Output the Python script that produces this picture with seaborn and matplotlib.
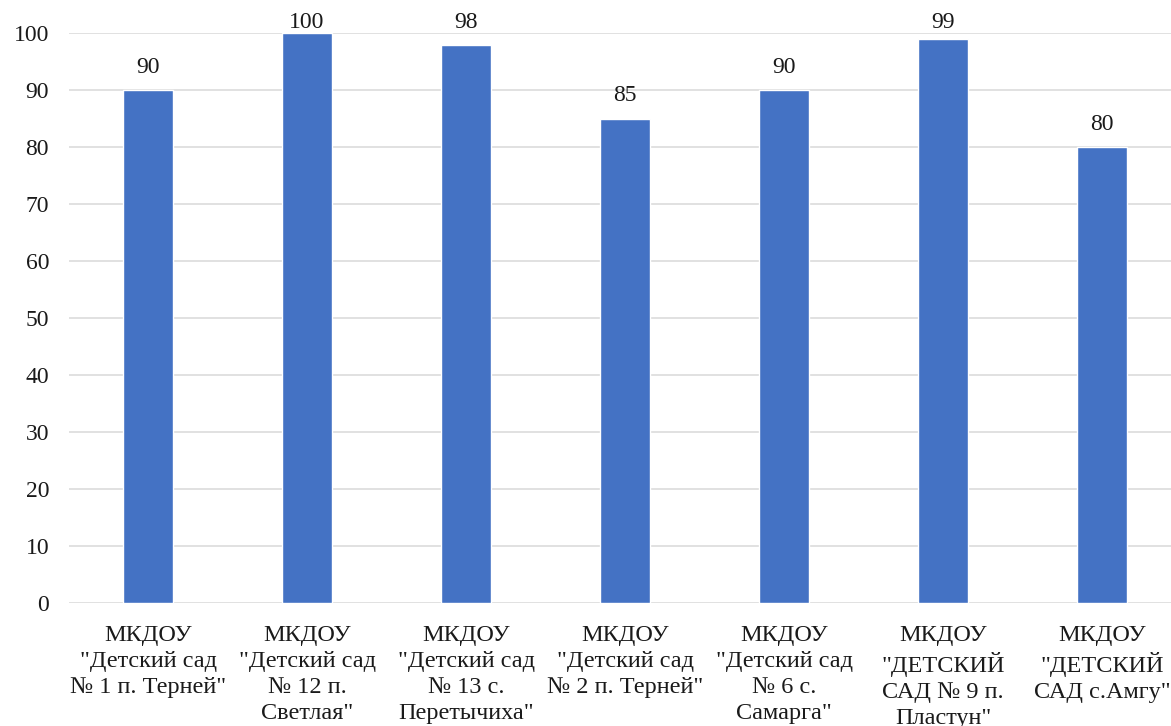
import matplotlib
matplotlib.use("Agg")
import matplotlib.pyplot as plt
import seaborn as sns
import pandas as pd

# data
schools = [
    'МКДОУ\n"Детский сад\n№ 1 п. Терней"',
    'МКДОУ\n"Детский сад\n№ 12 п.\nСветлая"',
    'МКДОУ\n"Детский сад\n№ 13 с.\nПеретычиха"',
    'МКДОУ\n"Детский сад\n№ 2 п. Терней"',
    'МКДОУ\n"Детский сад\n№ 6 с.\nСамарга"',
    'МКДОУ\n"ДЕТСКИЙ\nСАД № 9 п.\nПластун"',
    'МКДОУ\n"ДЕТСКИЙ\nСАД с.Амгу"',
]
values = [90, 100, 98, 85, 90, 99, 80]
yticks = list(range(0, 101, 10))

df = pd.DataFrame({"school": schools, "value": values})

sns.set_theme(style="white")
plt.rcParams["font.family"] = ["Liberation Serif", "DejaVu Serif"]

fig = plt.figure(figsize=(11.71, 7.26), dpi=100)
ax = fig.add_axes([0.0585, 0.1694, 0.9505, 0.785])

sns.barplot(data=df, x="school", y="value", color="#4472C4", width=0.315,
            saturation=1, ax=ax, zorder=3)

ax.set_ylim(0, 100)
ax.set_yticks(yticks)
ax.set_xlim(-0.5, len(schools) - 0.5)
ax.grid(axis="y", color="#d9d9d9", linewidth=1.1, zorder=0)
ax.grid(axis="x", visible=False)
for s in ax.spines.values():
    s.set_visible(False)
ax.set_xlabel("")
ax.set_ylabel("")
ax.tick_params(axis="y", length=0, pad=14, labelsize=17, colors="#1a1a1a")
ax.tick_params(axis="x", length=0, pad=16, labelsize=17.5, colors="#1a1a1a")
for lbl in ax.get_xticklabels():
    lbl.set_linespacing(1.3)

# value labels above bars (pushed down near the top edge like Excel does)
for i, v in enumerate(values):
    ax.text(i, min(v + 4.0, 101.9), str(v), ha="center", va="center",
            fontsize=17, color="#1a1a1a", clip_on=False)

fig.savefig("out.png", dpi=100)
